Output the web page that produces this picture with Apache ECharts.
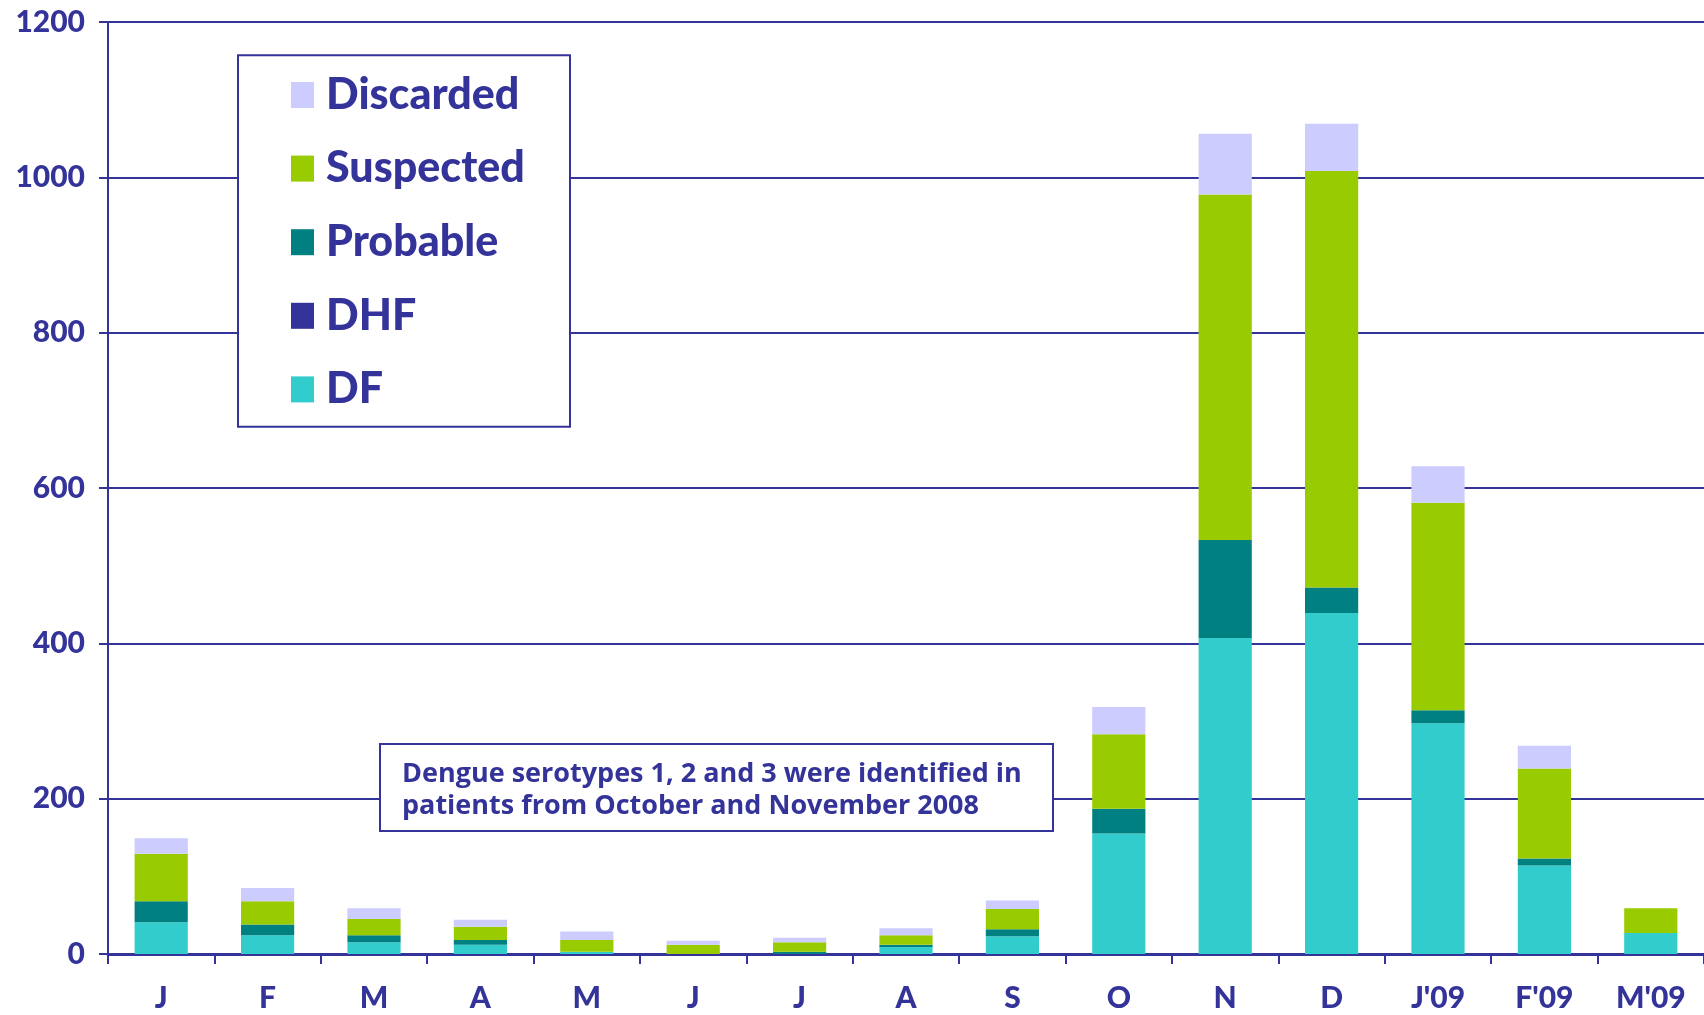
<!DOCTYPE html>
<html>
<head>
<meta charset="utf-8">
<script src="https://cdn.jsdelivr.net/npm/echarts@6/dist/echarts.min.js"></script>
<style>
html,body{margin:0;padding:0;background:#fff;}
#chart{width:1704px;height:1015px;}
</style>
</head>
<body>
<div id="chart"></div>
<script>
const categories = ['J','F','M','A','M','J','J','A','S','O','N','D',"J'09","F'09","M'09"];
const yTicks = [0,200,400,600,800,1000,1200];
const DF        = [41,24,15,12,3,0,0,9,23,155,407,439,297,114,27];
const DHF       = [0,0,0,0,0,0,0,0,0,0,0,0,0,0,0];
const Probable  = [27,14,9,6,0,0,3,3,9,32,126,33,17,9,0];
const Suspected = [61,30,21,17,15,12,12,12,26,96,445,536,267,116,32];
const Discarded = [20,17,14,9,11,5,6,9,11,35,78,61,47,29,0];
const noteLines = ['Dengue serotypes 1, 2 and 3 were identified in','patients from October and November 2008'];

const NAVY = '#333399';
const FONT = 'Lato, "Open Sans", sans-serif';
const NOTEFONT = '"Open Sans", Lato, sans-serif';

const chart = echarts.init(document.getElementById('chart'), null, {renderer:'canvas'});

function bar(name, data, color){
  return {name, type:'bar', stack:'total', data, barWidth:'50%',
    itemStyle:{color}, emphasis:{disabled:true}};
}

chart.setOption({
  animation:false,
  backgroundColor:'#fff',
  grid:{left:108, right:-5, top:22, bottom:61, containLabel:false},
  xAxis:{
    type:'category', data:categories,
    axisLine:{lineStyle:{color:NAVY, width:3}},
    axisTick:{show:true, length:10, lineStyle:{color:NAVY, width:2}},
    axisLabel:{color:NAVY, fontFamily:FONT, fontWeight:900, fontSize:30, margin:29}
  },
  yAxis:{
    type:'value', min:yTicks[0], max:yTicks[yTicks.length-1], interval:yTicks[1]-yTicks[0],
    axisLine:{show:true, lineStyle:{color:NAVY, width:2}},
    axisTick:{show:true, length:9, lineStyle:{color:NAVY, width:2}},
    splitLine:{show:true, lineStyle:{color:NAVY, width:2}},
    axisLabel:{color:NAVY, fontFamily:FONT, fontWeight:900, fontSize:30, margin:23,
      formatter:function(v){return String(v);}}
  },
  legend:{
    orient:'vertical', left:291, top:73, padding:0, z:20,
    icon:'rect', itemWidth:23, itemHeight:26, itemGap:29.6,
    data:['Discarded','Suspected','Probable','DHF','DF'],
    selectedMode:false,
    textStyle:{color:NAVY, fontFamily:FONT, fontWeight:900, fontSize:43, lineHeight:44, padding:[0,0,0,7]}
  },
  graphic:[
    {type:'rect', z:10, shape:{x:238, y:55.3, width:332, height:371.4},
     style:{fill:'#fff', stroke:NAVY, lineWidth:2}},
    {type:'rect', z:10, shape:{x:380, y:744, width:673, height:87},
     style:{fill:'#fff', stroke:NAVY, lineWidth:2}},
    {type:'text', z:11, x:402, y:774, style:{text:noteLines[0], fill:NAVY, font:'bold 27px '+NOTEFONT, textVerticalAlign:'middle'}},
    {type:'text', z:11, x:402, y:806, style:{text:noteLines[1], fill:NAVY, font:'bold 27px '+NOTEFONT, textVerticalAlign:'middle'}}
  ],
  series:[
    bar('DF', DF, '#33CCCC'),
    bar('DHF', DHF, '#333399'),
    bar('Probable', Probable, '#008080'),
    bar('Suspected', Suspected, '#99CC00'),
    bar('Discarded', Discarded, '#CCCCFF')
  ]
});
</script>
</body>
</html>
